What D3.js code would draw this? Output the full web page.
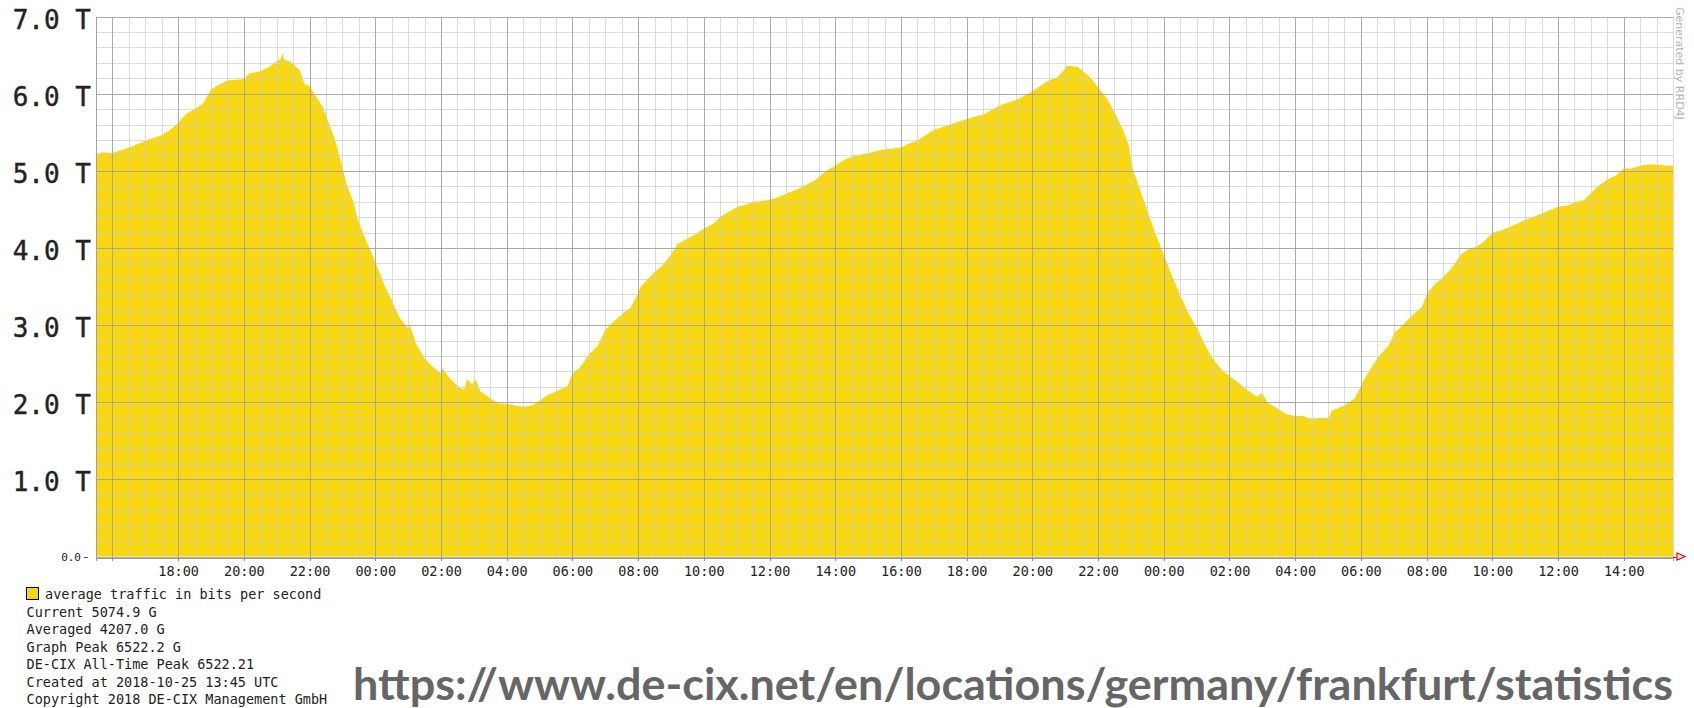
<!DOCTYPE html>
<html><head><meta charset="utf-8">
<script src="https://cdn.jsdelivr.net/npm/d3@7"></script>
<style>body{margin:0;background:#fff}svg{display:block}</style>
</head><body>
<svg id="chart" width="1694" height="708"></svg>
<script>
// ---------------- data ----------------
const timeDomain = ["2018-10-23 15:30", "2018-10-25 15:30"];
const times = [
"2018-10-23 15:30","2018-10-23 15:40","2018-10-23 16:00","2018-10-23 16:30","2018-10-23 17:00","2018-10-23 17:30","2018-10-23 17:45",
"2018-10-23 18:00","2018-10-23 18:15","2018-10-23 18:30","2018-10-23 18:45","2018-10-23 19:00","2018-10-23 19:15","2018-10-23 19:30",
"2018-10-23 20:00","2018-10-23 20:10","2018-10-23 20:30","2018-10-23 20:47","2018-10-23 21:00","2018-10-23 21:08","2018-10-23 21:11",
"2018-10-23 21:14","2018-10-23 21:23","2018-10-23 21:30","2018-10-23 21:42","2018-10-23 21:51","2018-10-23 22:00","2018-10-23 22:12",
"2018-10-23 22:24","2018-10-23 22:30","2018-10-23 22:36","2018-10-23 22:48","2018-10-23 23:00","2018-10-23 23:08","2018-10-23 23:20",
"2018-10-23 23:28","2018-10-23 23:43",
"2018-10-24 00:00","2018-10-24 00:15","2018-10-24 00:30","2018-10-24 00:45","2018-10-24 01:00","2018-10-24 01:04","2018-10-24 01:15",
"2018-10-24 01:30","2018-10-24 01:45","2018-10-24 02:00","2018-10-24 02:03","2018-10-24 02:15","2018-10-24 02:30","2018-10-24 02:42",
"2018-10-24 02:48","2018-10-24 02:57","2018-10-24 03:03","2018-10-24 03:12","2018-10-24 03:30","2018-10-24 03:46","2018-10-24 04:00",
"2018-10-24 04:13","2018-10-24 04:30","2018-10-24 04:47","2018-10-24 05:00","2018-10-24 05:14","2018-10-24 05:30","2018-10-24 05:51",
"2018-10-24 06:00","2018-10-24 06:15","2018-10-24 06:30","2018-10-24 06:46","2018-10-24 07:00","2018-10-24 07:16","2018-10-24 07:31",
"2018-10-24 07:47","2018-10-24 08:00","2018-10-24 08:05","2018-10-24 08:17","2018-10-24 08:29","2018-10-24 08:44","2018-10-24 09:00",
"2018-10-24 09:12","2018-10-24 09:30","2018-10-24 09:45","2018-10-24 10:00","2018-10-24 10:19","2018-10-24 10:31","2018-10-24 10:46",
"2018-10-24 11:01","2018-10-24 11:20","2018-10-24 11:32","2018-10-24 12:00","2018-10-24 12:21","2018-10-24 12:32","2018-10-24 12:51",
"2018-10-24 13:02","2018-10-24 13:22","2018-10-24 13:33","2018-10-24 13:46","2018-10-24 14:01","2018-10-24 14:16","2018-10-24 14:32",
"2018-10-24 14:47","2018-10-24 15:02","2018-10-24 15:17","2018-10-24 15:31","2018-10-24 16:00","2018-10-24 16:14","2018-10-24 16:29",
"2018-10-24 17:00","2018-10-24 17:30","2018-10-24 18:00","2018-10-24 18:31","2018-10-24 19:01","2018-10-24 19:32","2018-10-24 20:00",
"2018-10-24 20:30","2018-10-24 20:45","2018-10-24 20:57","2018-10-24 21:03","2018-10-24 21:22","2018-10-24 21:31","2018-10-24 21:46",
"2018-10-24 22:00","2018-10-24 22:16","2018-10-24 22:32","2018-10-24 22:47","2018-10-24 22:56","2018-10-24 23:04","2018-10-24 23:11",
"2018-10-24 23:30","2018-10-24 23:45",
"2018-10-25 00:00","2018-10-25 00:15","2018-10-25 00:31","2018-10-25 00:46","2018-10-25 01:01","2018-10-25 01:16","2018-10-25 01:31",
"2018-10-25 01:47","2018-10-25 02:00","2018-10-25 02:17","2018-10-25 02:32","2018-10-25 02:50","2018-10-25 03:00","2018-10-25 03:10",
"2018-10-25 03:30","2018-10-25 03:45","2018-10-25 04:00","2018-10-25 04:15","2018-10-25 04:30","2018-10-25 04:46","2018-10-25 05:01",
"2018-10-25 05:07","2018-10-25 05:31","2018-10-25 05:49","2018-10-25 06:00","2018-10-25 06:08","2018-10-25 06:20","2018-10-25 06:32",
"2018-10-25 06:50","2018-10-25 07:02","2018-10-25 07:14","2018-10-25 07:33","2018-10-25 07:51","2018-10-25 08:01","2018-10-25 08:15",
"2018-10-25 08:30","2018-10-25 08:45","2018-10-25 09:02","2018-10-25 09:16","2018-10-25 09:31","2018-10-25 09:43","2018-10-25 10:01",
"2018-10-25 10:17","2018-10-25 10:32","2018-10-25 10:47","2018-10-25 11:02","2018-10-25 11:17","2018-10-25 11:32","2018-10-25 11:59",
"2018-10-25 12:18","2018-10-25 12:33","2018-10-25 12:48","2018-10-25 13:00","2018-10-25 13:13","2018-10-25 13:31","2018-10-25 13:46",
"2018-10-25 14:00","2018-10-25 14:13","2018-10-25 14:32","2018-10-25 14:47","2018-10-25 15:02","2018-10-25 15:17","2018-10-25 15:30"
];
// average traffic, Tbit/s
const traffic = [
5.21,5.24,5.23,5.30,5.39,5.46,5.53,
5.62,5.74,5.80,5.87,6.05,6.12,6.17,
6.19,6.26,6.29,6.35,6.42,6.46,6.52,
6.44,6.42,6.39,6.30,6.12,6.10,5.96,
5.83,5.72,5.60,5.37,5.05,4.82,4.60,
4.37,4.10,
3.82,3.55,3.32,3.09,2.96,2.98,2.75,
2.57,2.46,2.37,2.44,2.32,2.21,2.16,
2.30,2.23,2.30,2.14,2.05,1.98,1.98,
1.96,1.94,1.96,2.02,2.09,2.14,2.21,
2.37,2.46,2.62,2.73,2.94,3.05,3.14,
3.23,3.41,3.50,3.59,3.68,3.77,3.91,
4.05,4.12,4.18,4.25,4.32,4.41,4.47,
4.53,4.57,4.60,4.62,4.67,4.71,4.76,
4.80,4.87,4.94,5.01,5.07,5.14,5.19,
5.21,5.23,5.26,5.28,5.30,5.35,5.39,
5.53,5.60,5.67,5.73,5.85,5.92,6.03,
6.17,6.21,6.30,6.36,6.35,6.30,6.21,
6.08,5.94,5.73,5.51,5.33,5.00,4.87,
4.48,4.18,
3.91,3.64,3.37,3.14,2.96,2.73,2.55,
2.41,2.34,2.25,2.16,2.07,2.12,1.99,
1.91,1.84,1.82,1.82,1.78,1.80,1.80,
1.89,1.96,2.05,2.21,2.32,2.46,2.59,
2.73,2.91,2.98,3.12,3.23,3.41,3.53,
3.62,3.73,3.91,3.98,4.02,4.07,4.20,
4.23,4.27,4.32,4.37,4.41,4.45,4.53,
4.55,4.60,4.62,4.71,4.80,4.89,4.94,
5.03,5.03,5.07,5.08,5.08,5.07,5.07
];
const yMajorTicks = [0, 1, 2, 3, 4, 5, 6, 7];
const yTickLabels = ["0.0", "1.0 T", "2.0 T", "3.0 T", "4.0 T", "5.0 T", "6.0 T", "7.0 T"];
const seriesLabel = "average traffic in bits per second";
const legendLines = [
  "Current 5074.9 G",
  "Averaged 4207.0 G",
  "Graph Peak 6522.2 G",
  "DE-CIX All-Time Peak 6522.21",
  "Created at 2018-10-25 13:45 UTC",
  "Copyright 2018 DE-CIX Management GmbH"
];
const watermark = "Generated by RRD4J";
const sourceUrl = "https://www.de-cix.net/en/locations/germany/frankfurt/statistics";

// ---------------- layout ----------------
const L = 96, R = 1673, T = 16.5, B = 556.5;
const mono = "'DejaVu Sans Mono', monospace";
const parse = d3.timeParse("%Y-%m-%d %H:%M");
const data = times.map((t, i) => ({ t: parse(t), v: traffic[i] }));

const x = d3.scaleTime().domain(timeDomain.map(parse)).range([L, R]);
const y = d3.scaleLinear().domain([0, 7]).range([B, T]);

const svg = d3.select("#chart");
svg.append("rect").attr("width", 1694).attr("height", 708).attr("fill", "#fff");

// area
const area = d3.area().x(d => x(d.t)).y0(y(0)).y1(d => y(d.v)).curve(d3.curveLinear);
svg.append("path").datum(data).attr("d", area).attr("fill", "#f7d813");

// grid (drawn over the area, semi-transparent like RRD)
const grid = svg.append("g").attr("shape-rendering", "crispEdges");
const minorX = x.ticks(d3.timeMinute.every(30));
const majorX = x.ticks(d3.timeHour.every(2));
const minorY = d3.range(0, 36).map(i => i / 5);
const minorColor = "rgb(205,205,205)", minorOp = 0.7;
const majorColor = "rgb(150,150,150)", majorOp = 0.7;

grid.selectAll("line.mx").data(minorX).join("line")
  .attr("x1", d => Math.round(x(d)) + 0.5).attr("x2", d => Math.round(x(d)) + 0.5)
  .attr("y1", T).attr("y2", B)
  .attr("stroke", minorColor).attr("stroke-opacity", minorOp);
grid.selectAll("line.my").data(minorY).join("line")
  .attr("x1", L).attr("x2", R)
  .attr("y1", d => Math.round(y(d)) + 0.5).attr("y2", d => Math.round(y(d)) + 0.5)
  .attr("stroke", minorColor).attr("stroke-opacity", minorOp);
grid.selectAll("line.Mx").data(majorX).join("line")
  .attr("x1", d => Math.round(x(d)) + 0.5).attr("x2", d => Math.round(x(d)) + 0.5)
  .attr("y1", T).attr("y2", B)
  .attr("stroke", majorColor).attr("stroke-opacity", majorOp);
grid.selectAll("line.My").data(yMajorTicks).join("line")
  .attr("x1", L).attr("x2", R)
  .attr("y1", d => Math.round(y(d)) + 0.5).attr("y2", d => Math.round(y(d)) + 0.5)
  .attr("stroke", majorColor).attr("stroke-opacity", majorOp);
// left axis line
grid.append("line").attr("x1", L + 0.5).attr("x2", L + 0.5).attr("y1", T).attr("y2", B)
  .attr("stroke", "rgb(160,160,160)");

// x axis (ticks + labels)
const fmt = d3.timeFormat("%H:%M");
const xAxis = d3.axisBottom(x).tickValues(majorX).tickSize(3).tickPadding(5)
  .tickFormat(d => x(d) < 140 ? "" : fmt(d));
const gx = svg.append("g").attr("transform", `translate(0,${Math.round(y(0)) + 0.5})`).call(xAxis);
gx.select(".domain").attr("stroke", "rgb(160,160,160)").attr("shape-rendering", "crispEdges");
gx.selectAll(".tick line").attr("stroke", "rgb(140,140,140)").attr("shape-rendering", "crispEdges");
gx.selectAll(".tick text").attr("font-family", mono).attr("font-size", "13.5px").attr("fill", "#222")
  .attr("dy", null).attr("y", 18);

// arrow at end of x axis
svg.append("path")
  .attr("d", `M${R + 4},${y(0) - 3.5} L${R + 12},${y(0)} L${R + 4},${y(0) + 3.5} Z`)
  .attr("fill", "none").attr("stroke", "#e00").attr("stroke-width", 1.2);
svg.append("line").attr("x1", R).attr("x2", R + 4).attr("y1", Math.round(y(0)) + 0.5).attr("y2", Math.round(y(0)) + 0.5)
  .attr("stroke", "#e00");

// y labels
const yl = svg.append("g");
yMajorTicks.forEach((v, i) => {
  if (v === 0) {
    yl.append("text").attr("x", 81).attr("y", y(v) + 4).attr("text-anchor", "end")
      .attr("font-family", mono).attr("font-size", "11px").attr("fill", "#222").text(yTickLabels[i]);
    yl.append("line").attr("x1", 84).attr("x2", 88).attr("y1", Math.round(y(v)) + 0.5).attr("y2", Math.round(y(v)) + 0.5)
      .attr("stroke", "#555");
  } else {
    yl.append("text").attr("x", 91).attr("y", y(v) + 12).attr("text-anchor", "end")
      .attr("font-family", mono).attr("font-size", "26px").attr("fill", "#222")
      .attr("stroke", "#222").attr("stroke-width", 0.4).text(yTickLabels[i]);
  }
});

// watermark
svg.append("text").attr("transform", "translate(1676,7) rotate(90)")
  .attr("font-family", "'DejaVu Sans', sans-serif").attr("font-size", "11px").attr("fill", "#b4b4b4")
  .text(watermark);

// legend
svg.append("rect").attr("x", 26.5).attr("y", 587.5).attr("width", 12).attr("height", 12)
  .attr("fill", "#f7d813").attr("stroke", "#000");
svg.append("text").attr("x", 45).attr("y", 599).attr("font-family", mono).attr("font-size", "13.5px")
  .attr("fill", "#222").text(seriesLabel);
svg.selectAll("text.leg").data(legendLines).join("text").attr("class", "leg")
  .attr("x", 26.5).attr("y", (d, i) => 616.7 + i * 17.5)
  .attr("font-family", mono).attr("font-size", "13.5px").attr("fill", "#222").text(d => d);

// source url
svg.append("text").attr("x", 353).attr("y", 700)
  .attr("font-family", "Lato, 'Open Sans', sans-serif").attr("font-weight", "bold").attr("font-size", "44px")
  .attr("fill", "#666").attr("textLength", 1320).attr("lengthAdjust", "spacingAndGlyphs")
  .text(sourceUrl);
</script>
</body></html>
